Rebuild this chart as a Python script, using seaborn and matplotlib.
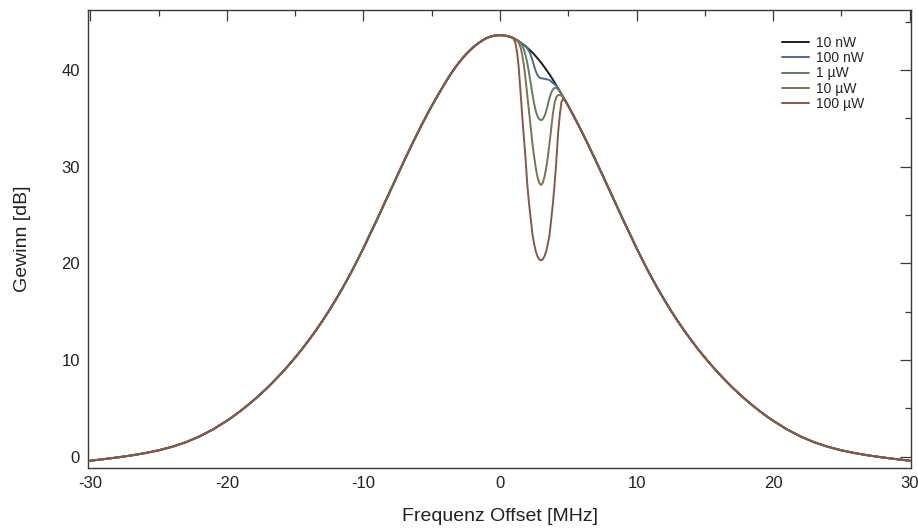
import numpy as np
import pandas as pd
import matplotlib
matplotlib.use("Agg")
import matplotlib.pyplot as plt
import seaborn as sns
from matplotlib.ticker import MultipleLocator

# ---- data ----
# base gain curve, |offset| in MHz (curve is symmetric)
offset_abs = [0, 0.25, 0.5, 0.75, 1.0, 1.25, 1.5, 1.75, 2.0, 2.25, 2.5, 2.75, 3.0,
              3.25, 3.5, 3.75, 4.0, 4.25, 4.5, 4.75, 5.0, 5.25, 5.5, 5.75, 6.0,
              6.5, 7.0, 7.5, 8.0, 8.5, 9.0, 9.5, 10.0, 10.5, 11.0, 11.5, 12.0,
              12.5, 13.0, 13.5, 14.0, 14.5, 15.0, 15.5, 16.0, 16.5, 17.0, 17.5,
              18.0, 18.5, 19.0, 19.5, 20, 21, 22, 23, 24, 25, 26, 27, 28, 29, 30]
base_gain = [43.60, 43.58, 43.52, 43.42, 43.28, 43.09, 42.85, 42.59, 42.30, 41.97, 41.61, 41.20, 40.77,
             40.30, 39.80, 39.27, 38.70, 38.11, 37.51, 36.90, 36.28, 35.63, 34.96, 34.28, 33.58,
             32.14, 30.66, 29.15, 27.61, 26.08, 24.55, 23.05, 21.57, 20.16, 18.79, 17.51, 16.29,
             15.14, 14.05, 13.02, 12.05, 11.12, 10.25, 9.42, 8.63, 7.89, 7.18, 6.51,
             5.88, 5.29, 4.73, 4.20, 3.71, 2.83, 2.09, 1.49, 1.02, 0.65, 0.36, 0.12, -0.08, -0.26, -0.42]

# dip region (positive offsets, MHz) for each probe power
dip_offset = [1.0, 1.125, 1.25, 1.375, 1.5, 1.625, 1.75, 1.875, 2.0, 2.125, 2.25, 2.375, 2.5,
              2.625, 2.75, 2.875, 3.0, 3.125, 3.25, 3.375, 3.5, 3.625, 3.75, 3.875, 4.0,
              4.125, 4.25, 4.375, 4.5, 4.625, 4.75, 4.875, 5.0]
dip_10nW  = [43.28, 43.19, 43.09, 42.97, 42.85, 42.72, 42.59, 42.45, 42.30, 42.14, 41.97, 41.79, 41.61,
             41.41, 41.20, 40.99, 40.77, 40.54, 40.30, 40.05, 39.80, 39.54, 39.27, 38.99, 38.70,
             38.41, 38.11, 37.81, 37.51, 37.21, 36.90, 36.59, 36.28]
dip_100nW = [43.28, 43.19, 43.09, 42.97, 42.85, 42.72, 42.59, 42.44, 42.25, 41.95, 41.55, 41.00, 40.40,
             39.85, 39.45, 39.22, 39.15, 39.12, 39.10, 39.05, 39.00, 38.95, 38.80, 38.65, 38.50,
             38.38, 38.11, 37.81, 37.51, 37.21, 36.90, 36.59, 36.28]
dip_1uW   = [43.28, 43.19, 43.09, 42.95, 42.80, 42.55, 42.10, 41.50, 40.70, 39.70, 38.60, 37.50, 36.50,
             35.70, 35.20, 34.90, 34.80, 34.90, 35.20, 35.70, 36.40, 37.10, 37.65, 38.00, 38.15,
             38.15, 38.00, 37.80, 37.51, 37.21, 36.90, 36.59, 36.28]
dip_10uW  = [43.28, 43.19, 43.05, 42.80, 42.35, 41.60, 40.50, 39.00, 37.40, 35.70, 34.00, 32.40, 31.00,
             29.80, 28.90, 28.30, 28.10, 28.30, 28.90, 29.80, 31.00, 32.40, 34.00, 35.50, 36.60,
             37.20, 37.40, 37.40, 37.35, 37.15, 36.90, 36.59, 36.28]
dip_100uW = [43.22, 42.80, 41.85, 40.20, 37.70, 35.30, 33.00, 30.70, 28.10, 26.20, 24.60, 23.00, 22.00,
             21.20, 20.70, 20.40, 20.30, 20.40, 20.70, 21.20, 22.00, 22.90, 24.50, 26.20, 28.20,
             30.60, 33.40, 35.30, 36.70, 37.00, 36.85, 36.59, 36.28]

powers = ["10 nW", "100 nW", "1 \u00b5W", "10 \u00b5W", "100 \u00b5W"]
colors = ["#1c1c1c", "#4d6a8c", "#5f7d5f", "#7d7350", "#84594a"]

# ---- build long table ----
base_f = [-f for f in offset_abs[::-1][:-1]] + offset_abs
base_g = base_gain[::-1][:-1] + base_gain
dips = [dip_10nW, dip_100nW, dip_1uW, dip_10uW, dip_100uW]
lo, hi = dip_offset[0], dip_offset[-1]
rows = []
for p, d in zip(powers, dips):
    for f, g in zip(base_f, base_g):
        if not (lo <= f <= hi):
            rows.append((f, g, p))
    for f, g in zip(dip_offset, d):
        rows.append((f, g, p))
df = pd.DataFrame(rows, columns=["f", "gain", "power"]).sort_values(["power", "f"])

sns.set_theme(style="white")
plt.rcParams["font.family"] = ["Liberation Sans", "DejaVu Sans"]
plt.rcParams["axes.unicode_minus"] = False

fig = plt.figure(figsize=(9.18, 5.30), dpi=100)
ax = fig.add_axes([0.0962, 0.1175, 0.8962, 0.8636])

sns.lineplot(data=df, x="f", y="gain", hue="power", hue_order=powers,
             palette=colors, linewidth=1.4, ax=ax, estimator=None, sort=True)

ax.set_xlim(-30.15, 30.1)
ax.set_ylim(-1.15, 46.2)
ax.xaxis.set_major_locator(MultipleLocator(10))
ax.xaxis.set_minor_locator(MultipleLocator(5))
ax.yaxis.set_major_locator(MultipleLocator(10))
ax.yaxis.set_minor_locator(MultipleLocator(5))
ax.tick_params(which="both", direction="in", top=True, right=True,
               color="#3a3a3a", width=0.9, labelsize=12, labelcolor="#222222", pad=6)
ax.tick_params(which="major", length=8)
ax.tick_params(which="minor", length=4.3)
for s in ax.spines.values():
    s.set_color("#3a3a3a")
    s.set_linewidth(1.0)

ax.set_xlabel("Frequenz Offset [MHz]", fontsize=14, color="#222222", labelpad=12)
ax.set_ylabel("Gewinn [dB]", fontsize=14, color="#222222", labelpad=22)

leg = ax.legend(loc="upper left", bbox_to_anchor=(0.836, 0.955), frameon=False,
                fontsize=10, handlelength=2.0, labelspacing=0.08, handletextpad=0.5,
                borderaxespad=0.0)
for line in leg.get_lines():
    line.set_linewidth(1.4)

fig.savefig("out.png", dpi=100)
